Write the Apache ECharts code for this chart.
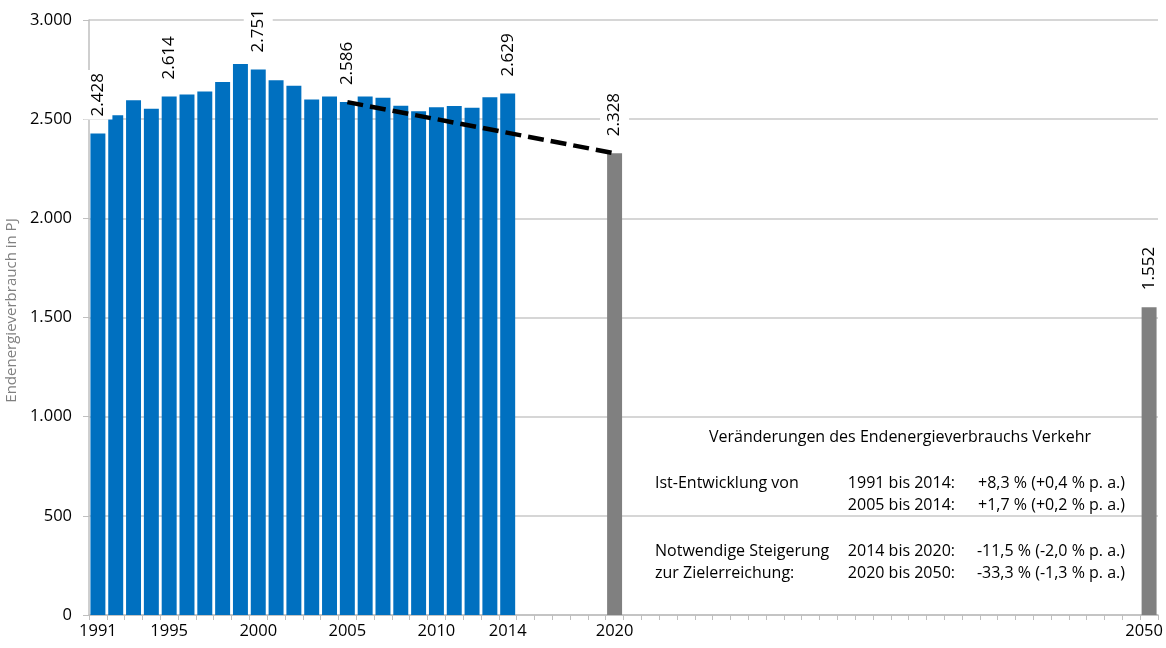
<!DOCTYPE html>
<html>
<head>
    <meta charset="utf-8">
    <title>Endenergieverbrauch Verkehr</title>
    <script src="https://cdn.jsdelivr.net/npm/echarts@6/dist/echarts.min.js"></script>
    <style>
        body { margin: 0; background: #fff; }
    </style>
</head>
<body>
    <div id="main" style="width: 1166px;height:648px;"></div>
    <script type="text/javascript">
        // Ist-Werte 1991-2014 (PJ)
        var histYears = ['1991','1992','1993','1994','1995','1996','1997','1998','1999','2000',
                         '2001','2002','2003','2004','2005','2006','2007','2008','2009','2010',
                         '2011','2012','2013','2014'];
        var histValues = [2428, 2520, 2595, 2553, 2614, 2624, 2640, 2688, 2778, 2751,
                          2696, 2669, 2599, 2614, 2586, 2614, 2608, 2568, 2540, 2560,
                          2567, 2557, 2610, 2629];
        // Zielwerte
        var targetYears = ['2020', '2050'];
        var targetValues = [2328, 1552];
        // Trendlinie 2005 -> 2020
        var trendYears = ['2005', '2020'];
        var trendValues = [2586, 2328];
        // Jahre mit Wertbeschriftung und Achsenbeschriftung
        var labelYears = ['1991', '1995', '2000', '2005', '2014', '2020', '2050'];
        var tickYears = ['1991', '1995', '2000', '2005', '2010', '2014', '2020', '2050'];

        var myChart = echarts.init(document.getElementById('main'));
        var font = 'Open Sans';

        // Kategorien 1991 .. 2050
        var years = [];
        for (var y = 1991; y <= 2050; y++) years.push(String(y));

        function fmt(v) {
            return String(v).replace(/\B(?=(\d{3})+(?!\d))/g, '.');
        }

        var barData = [];
        var trendData = [];
        for (var i = 0; i < years.length; i++) {
            var yr = years[i];
            var hi = histYears.indexOf(yr);
            var ti = targetYears.indexOf(yr);
            var v = null, color = '#0070C0';
            if (hi >= 0) v = histValues[hi];
            if (ti >= 0) { v = targetValues[ti]; color = '#808080'; }
            barData.push({
                value: v,
                itemStyle: { color: color },
                label: { show: labelYears.indexOf(yr) >= 0 }
            });
            var tr = trendYears.indexOf(yr);
            trendData.push(tr >= 0 ? trendValues[tr] : null);
        }

        function txt(x, y, s, align) {
            return {
                type: 'text', x: x, y: y,
                style: { text: s, font: '16px "' + font + '"', fill: '#000', textAlign: align || 'left', textVerticalAlign: 'middle' }
            };
        }

        var option = {
            animation: false,
            grid: { left: 89, right: 8, top: 20, bottom: 33, containLabel: false, outerBoundsMode: 'none' },
            xAxis: {
                type: 'category',
                data: years,
                axisLine: { lineStyle: { color: '#bfbfbf', width: 1.5 } },
                axisTick: { show: true, interval: 0, length: 5, lineStyle: { color: '#bfbfbf' } },
                axisLabel: {
                    interval: function (idx, val) { return tickYears.indexOf(val) >= 0; },
                    color: '#000', fontFamily: font, fontSize: 16.5, margin: 8,
                    formatter: function (val) { return val === '2050' ? '{r|' + val + '}' : val; },
                    rich: { r: { color: '#000', fontFamily: font, fontSize: 16.5, padding: [0, 10, 0, 0] } }
                }
            },
            yAxis: {
                type: 'value',
                min: 0, max: 3000, interval: 500,
                name: 'Endenergieverbrauch in PJ',
                nameLocation: 'middle',
                nameGap: 60,
                nameTextStyle: { color: '#808080', fontFamily: font, fontSize: 15, padding: [0, 0, 0, 14] },
                axisLine: { show: true, lineStyle: { color: '#bfbfbf', width: 1.5 } },
                axisTick: { show: true, length: 6, lineStyle: { color: '#bfbfbf' } },
                axisLabel: {
                    color: '#000', fontFamily: font, fontSize: 16.5, margin: 17,
                    formatter: function (v) { return fmt(v); }
                },
                splitLine: { lineStyle: { color: '#c8c8c8', width: 1.5 } }
            },
            series: [{
                type: 'bar',
                data: barData,
                barCategoryGap: '16%',
                label: {
                    position: 'top',
                    rotate: 90,
                    align: 'left',
                    verticalAlign: 'middle',
                    distance: 14,
                    padding: [6, 3],
                    backgroundColor: '#fff',
                    color: '#000',
                    fontFamily: font,
                    fontSize: 17,
                    formatter: function (p) { return fmt(p.value); }
                },
                z: 2
            }, {
                type: 'line',
                data: trendData,
                connectNulls: true,
                symbol: 'none',
                lineStyle: { color: '#000', width: 4.5, type: [16, 7] },
                z: 3
            }],
            graphic: [
                txt(900, 437, 'Veränderungen des Endenergieverbrauchs Verkehr', 'center'),
                txt(655, 483, 'Ist-Entwicklung von'),
                txt(955, 483, '1991 bis 2014:', 'right'),
                txt(1125, 483, '+8,3 % (+0,4 % p. a.)', 'right'),
                txt(955, 505, '2005 bis 2014:', 'right'),
                txt(1125, 505, '+1,7 % (+0,2 % p. a.)', 'right'),
                txt(655, 551, 'Notwendige Steigerung'),
                txt(955, 551, '2014 bis 2020:', 'right'),
                txt(1125, 551, '-11,5 % (-2,0 % p. a.)', 'right'),
                txt(655, 573, 'zur Zielerreichung:'),
                txt(955, 573, '2020 bis 2050:', 'right'),
                txt(1125, 573, '-33,3 % (-1,3 % p. a.)', 'right')
            ]
        };

        myChart.setOption(option);
    </script>
</body>
</html>
